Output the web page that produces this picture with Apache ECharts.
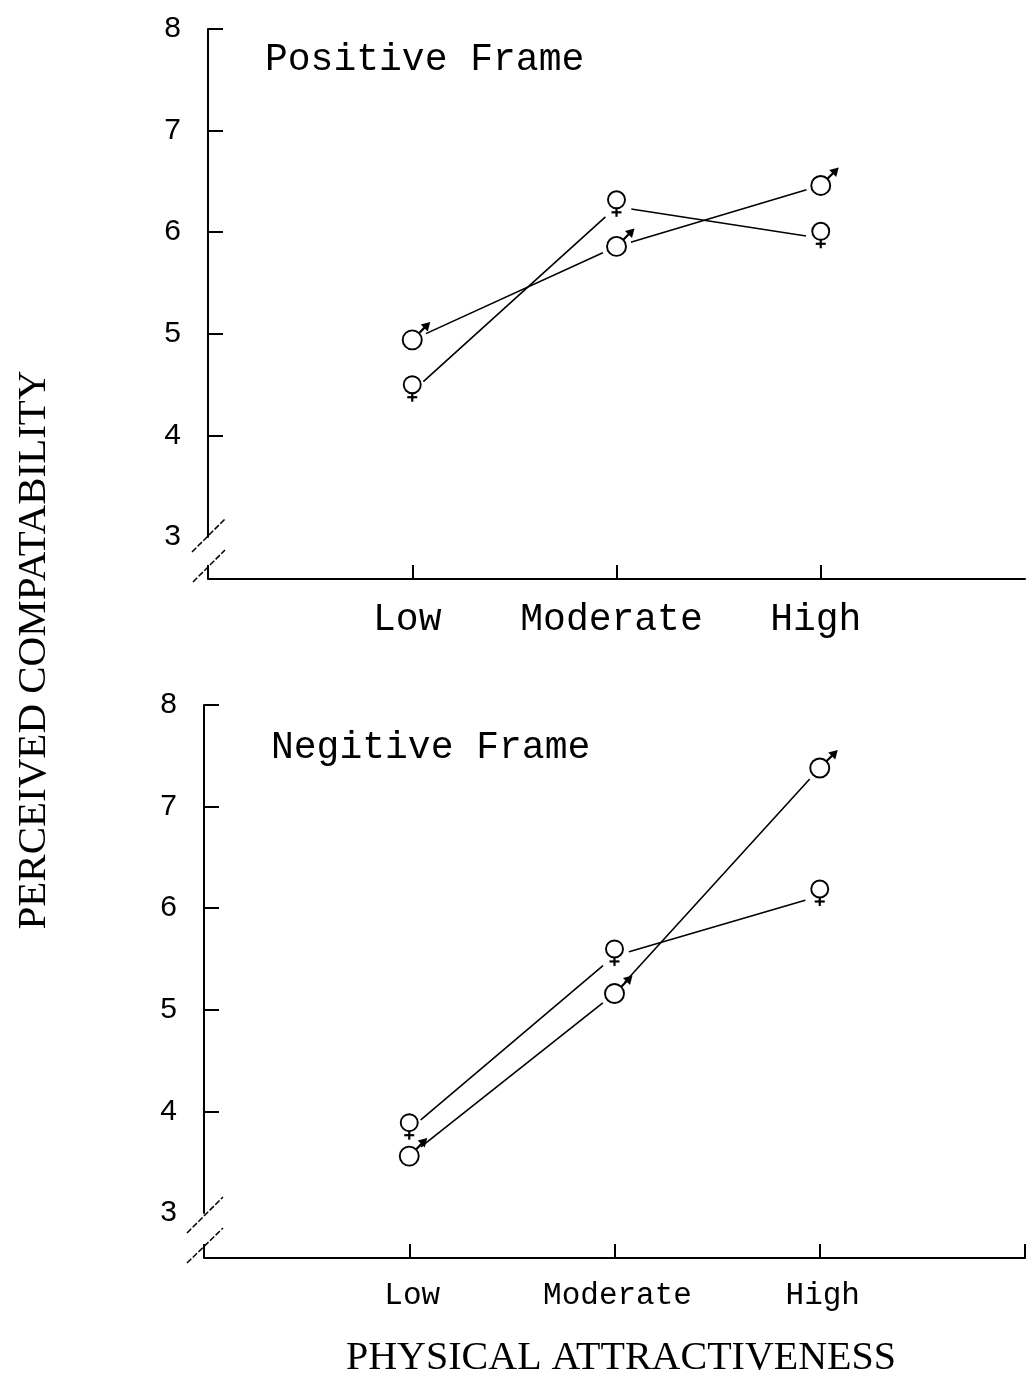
<!DOCTYPE html>
<html><head><meta charset="utf-8">
<script src="https://cdn.jsdelivr.net/npm/echarts@6.0.0/dist/echarts.min.js"></script>
<style>html,body{margin:0;padding:0;background:#fff}#c{width:1028px;height:1376px}</style>
</head><body><div id="c"></div>
<script>
// ---- data ----
const categories = ['Low', 'Moderate', 'High'];
const posMale = [4.94, 5.86, 6.46];
const posFemale = [4.43, 6.25, 5.94];
const negMale = [3.56, 5.16, 7.38];
const negFemale = [3.82, 5.53, 6.12];
const yTickValues = [3, 4, 5, 6, 7, 8];
const panelTitles = ['Positive Frame', 'Negitive Frame'];
const xTitle = 'PHYSICAL ATTRACTIVENESS';
const yTitle = 'PERCEIVED COMPATABILITY';

const toPts = arr => arr.map((v, i) => [i + 1, v]);
const catPos = categories.map((c, i) => i + 1);

function glyph(kind) {
  return function (params, api) {
    const p = api.coord([api.value(0), api.value(1)]);
    const x = p[0], y = p[1];
    const lw = 1.9;
    const ch = [{ type: 'circle', shape: { cx: x, cy: y, r: 15 }, style: { fill: '#fff' }, z2: 1 }];
    if (kind === 'm') {
      ch.push({ type: 'circle', shape: { cx: x, cy: y, r: 9.5 }, style: { stroke: '#000', lineWidth: lw, fill: '#fff' }, z2: 5 });
      ch.push({ type: 'line', shape: { x1: x + 6.7, y1: y - 6.7, x2: x + 13, y2: y - 13 }, style: { stroke: '#000', lineWidth: 2.2 }, z2: 5 });
      ch.push({ type: 'polygon', shape: { points: [[x + 18, y - 18], [x + 15.5, y - 8.5], [x + 8.5, y - 15.5]] }, style: { fill: '#000' }, z2: 5 });
    } else {
      ch.push({ type: 'circle', shape: { cx: x, cy: y - 7, r: 8.5 }, style: { stroke: '#000', lineWidth: lw, fill: '#fff' }, z2: 5 });
      ch.push({ type: 'line', shape: { x1: x, y1: y + 1.5, x2: x, y2: y + 10 }, style: { stroke: '#000', lineWidth: 2.2 }, z2: 5 });
      ch.push({ type: 'line', shape: { x1: x - 5, y1: y + 5.5, x2: x + 5, y2: y + 5.5 }, style: { stroke: '#000', lineWidth: 2.2 }, z2: 5 });
    }
    return { type: 'group', children: ch };
  };
}

function yAx(gi) {
  return {
    gridIndex: gi, type: 'value', min: 3, max: 8, interval: 1,
    axisLine: { show: true, lineStyle: { color: '#000', width: 2 } },
    axisTick: { show: true, inside: true, length: 15, customValues: yTickValues.slice(1), lineStyle: { color: '#000', width: 2 } },
    axisLabel: { color: '#000', fontFamily: 'Liberation Sans', fontSize: 30, margin: 27, customValues: yTickValues },
    splitLine: { show: false }
  };
}
function xAx(gi, offset, ticks, fontSize, margin, pad) {
  return {
    gridIndex: gi, type: 'value', min: 0, max: 4, interval: 1, offset: offset,
    axisLine: { show: true, onZero: false, lineStyle: { color: '#000', width: 2 } },
    axisTick: { show: true, inside: true, length: 14, customValues: ticks, lineStyle: { color: '#000', width: 2 } },
    axisLabel: { color: '#000', fontFamily: 'Liberation Mono', fontSize: fontSize, margin: margin, padding: pad,
      customValues: catPos, formatter: v => categories[Math.round(v) - 1] || '' },
    splitLine: { show: false }
  };
}
function lineS(gi, data) {
  return { type: 'line', xAxisIndex: gi, yAxisIndex: gi, data: toPts(data), symbol: 'none', z: 2,
    lineStyle: { color: '#000', width: 1.6 }, silent: true };
}
function glyphS(gi, data, kind) {
  return { type: 'custom', xAxisIndex: gi, yAxisIndex: gi, data: toPts(data), z: 3, renderItem: glyph(kind), silent: true };
}
const slash = (x1, y1, x2, y2) => ({ type: 'line', shape: { x1, y1, x2, y2 }, style: { stroke: '#000', lineWidth: 1.5, lineDash: [6, 2] } });

const chart = echarts.init(document.getElementById('c'), null, { renderer: 'canvas' });
chart.setOption({
  backgroundColor: '#fff',
  animation: false,
  grid: [
    { left: 208, right: 3, top: 29, height: 508 },
    { left: 204, right: 3, top: 705, height: 508 }
  ],
  xAxis: [xAx(0, 42, [0, 1, 2, 3], 38, 22, [0, 10, 0, 0]), xAx(1, 45, [0, 1, 2, 3, 4], 31, 22, [0, 0, 0, 6])],
  yAxis: [yAx(0), yAx(1)],
  series: [
    lineS(0, posMale), lineS(0, posFemale),
    lineS(1, negMale), lineS(1, negFemale),
    glyphS(0, posMale, 'm'), glyphS(0, posFemale, 'f'),
    glyphS(1, negMale, 'm'), glyphS(1, negFemale, 'f')
  ],
  graphic: [
    { type: 'text', x: 265, y: 60, style: { text: panelTitles[0], font: '38px "Liberation Mono"', fill: '#000', align: 'left', verticalAlign: 'middle' } },
    { type: 'text', x: 271, y: 748, style: { text: panelTitles[1], font: '38px "Liberation Mono"', fill: '#000', align: 'left', verticalAlign: 'middle' } },
    { type: 'text', x: 621, y: 1358, style: { text: xTitle, font: '40px "Liberation Serif"', fill: '#000', align: 'center', verticalAlign: 'middle' } },
    { type: 'text', x: 34, y: 650, rotation: Math.PI / 2, style: { text: yTitle, font: '41px "Liberation Serif"', fill: '#000', align: 'center', verticalAlign: 'middle' } },
    slash(192, 552, 226, 518), slash(193, 582, 225, 550),
    slash(187, 1233, 223, 1197), slash(187, 1263, 223, 1228)
  ]
});
</script>
</body></html>
